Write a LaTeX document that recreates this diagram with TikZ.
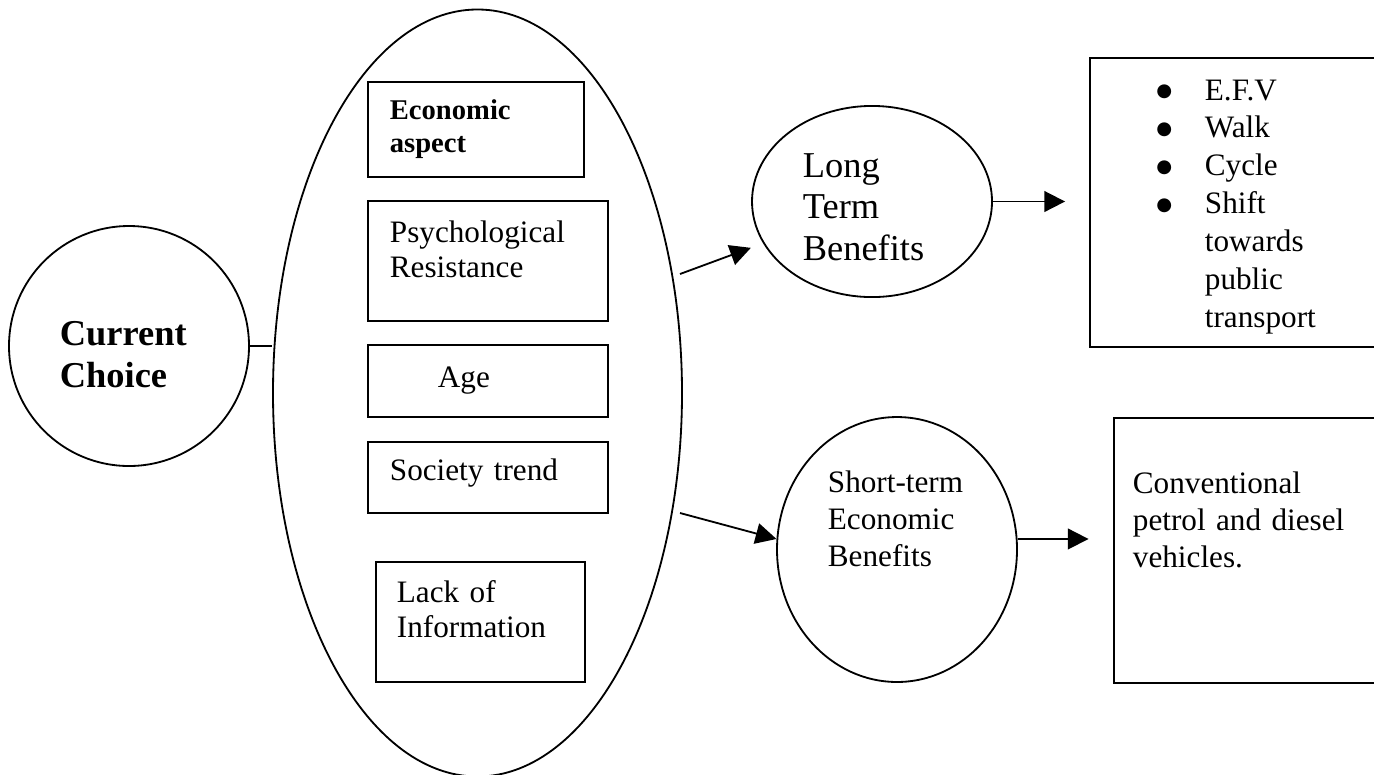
\documentclass[tikz,border=0pt]{standalone}
\usepackage{fontspec}
\setmainfont{Liberation Serif}
\newfontfamily\bulfont{DejaVu Sans}
\usetikzlibrary{shapes.geometric,arrows.meta}

\begin{document}
\begin{tikzpicture}[x=0.3846pt,y=-0.3846pt,line width=0.7pt,
  oval/.style={draw,ellipse,inner sep=0pt},
  box/.style={draw,rectangle,inner sep=0pt},
  txt/.style={anchor=base west,inner sep=0pt,text width=#1},
  txt/.default=3cm,
  arr/.style={-{Triangle[length=8pt,width=8pt]}}]

\path[use as bounding box] (0,0) rectangle (1374,774);
\clip (0,0) rectangle (1374,774);

\node[oval,minimum width=92.3pt,minimum height=92.3pt] (cc) at (129,346) {};
\node[oval,minimum width=157.3pt,minimum height=295pt] (main) at (477.5,393) {};

\node[box,minimum width=83.1pt,minimum height=36.5pt] (econ) at (476,129.5) {};
\node[box,minimum width=92.3pt,minimum height=46.2pt] (psy) at (488,261) {};
\node[box,minimum width=92.3pt,minimum height=27.7pt] (age) at (488,381) {};
\node[box,minimum width=92.3pt,minimum height=27.3pt] (soc) at (488,477.5) {};
\node[box,minimum width=80.4pt,minimum height=46.2pt] (lack) at (480.5,622) {};

\node[oval,minimum width=92.3pt,minimum height=73.5pt] (ltb) at (872,201.5) {};
\node[oval,minimum width=92.3pt,minimum height=101.9pt] (st) at (897,549.5) {};

\node[box,anchor=north west,minimum width=119.6pt,minimum height=111.2pt] (alt) at (1089,57) {};
\node[box,anchor=north west,minimum width=110.4pt,minimum height=101.9pt] (conv) at (1113,417) {};

\coordinate (a1) at (680,274);
\coordinate (a2) at (680,513);

\draw (cc.east) -- (cc.east -| main.west);
\draw[arr,shorten >=5pt] (a1) -- (ltb.201);
\draw[arr] (a2) -- (st.175);
\draw[arr,shorten >=9.2pt] (ltb.east) -- (ltb.east -| alt.west);
\draw[arr,shorten >=9.4pt] (st.5) -- (st.5 -| conv.west);

\node[txt,font=\fontsize{14}{16.5}\selectfont\bfseries] (cctext) at (59,345) {Current\\Choice};
\node[txt,font=\fontsize{11}{12.7}\selectfont\bfseries] (econtext) at (389,119) {Economic\\aspect};
\node[txt,font=\fontsize{12}{13.8}\selectfont] (psytext) at (389,242) {Psychological\\Resistance};
\node[txt,font=\fontsize{12}{13.8}\selectfont] (agetext) at (437,387) {Age};
\node[txt,font=\fontsize{12}{13.8}\selectfont] (soctext) at (389,480) {Society trend};
\node[txt,font=\fontsize{12}{13.8}\selectfont] (lacktext) at (396,602) {Lack of\\Information};

\node[txt,font=\fontsize{14}{16}\selectfont] (ltbtext) at (802,177) {Long\\Term\\Benefits};
\node[txt,font=\fontsize{12}{14.4}\selectfont] (sttext) at (827,492) {Short-term\\Economic\\Benefits};

\node[txt=4cm,font=\fontsize{12}{14.6}\selectfont] (alttext) at (1204,100)
  {\makebox[0pt][r]{\bulfont\fontsize{7}{9}\selectfont\raisebox{1.4pt}{●}\hspace{12.6pt}}E.F.V\\
   \makebox[0pt][r]{\bulfont\fontsize{7}{9}\selectfont\raisebox{1.4pt}{●}\hspace{12.6pt}}Walk\\
   \makebox[0pt][r]{\bulfont\fontsize{7}{9}\selectfont\raisebox{1.4pt}{●}\hspace{12.6pt}}Cycle\\
   \makebox[0pt][r]{\bulfont\fontsize{7}{9}\selectfont\raisebox{1.4pt}{●}\hspace{12.6pt}}Shift\\
   towards\\
   public\\
   transport};
\node[txt=4cm,font=\fontsize{12}{14.4}\selectfont] (convtext) at (1132,493) {Conventional\\petrol and diesel\\vehicles.};
\end{tikzpicture}
\end{document}
